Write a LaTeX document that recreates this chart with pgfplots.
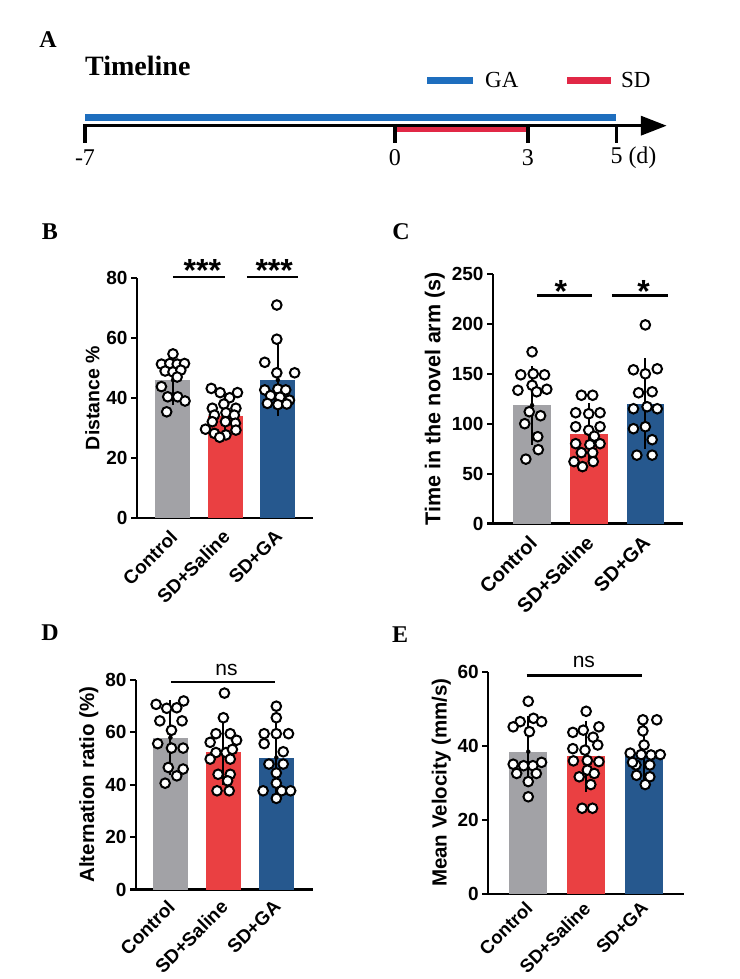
\documentclass[border=0pt]{standalone}
\usepackage{pgfplots}
\pgfplotsset{compat=1.18}
\usepackage{fontspec}
\setmainfont{Liberation Serif}
\newfontfamily\arial{Liberation Sans}
\usetikzlibrary{arrows.meta}
\definecolor{cgray}{RGB}{162,162,166}
\definecolor{cred}{RGB}{234,64,66}
\definecolor{cblue}{RGB}{38,88,142}
\definecolor{tblue}{RGB}{30,110,190}
\definecolor{tred}{RGB}{225,40,70}
\newcommand{\fs}[1]{\fontsize{#1}{#1}\selectfont}
\tikzset{sig/.style={line width=2.6pt}}

\pgfplotsset{
  panel/.style={
    scale only axis,
    anchor=south west,
    axis lines=left,
    axis line style={line width=2.2pt,-},
    clip=false,
    xtick={0,1,2},
    xticklabels={Control,SD+Saline,SD+GA},
    x tick style={draw=none},
    y tick style={line width=2.2pt,black},
    major tick length=6pt,
    tick align=outside,
    ymin=0,
    /pgf/number format/assume math mode=true,
    ticklabel style={font=\arial\bfseries\fs{19}},
    xticklabel style={font=\arial\bfseries\fs{19}, xshift=-4pt, yshift=-3pt, rotate=45, anchor=north east, inner sep=1pt},
  },
  mybar/.style={ybar, bar width=#1, bar shift=0pt, draw=none},
  dots/.style={only marks, mark=*, mark size=4.8pt, mark options={fill=white, draw=black, line width=2pt}},
  myeb/.style={black, only marks, mark=none, error bars/.cd, y dir=both, y explicit,
    error bar style={line width=2pt, black}, error mark options={line width=2pt, mark size=8.5pt, black}},
}

\begin{document}
\begin{tikzpicture}
\path[use as bounding box] (0pt,0pt) rectangle (739pt,-979pt);

% ---------------- Panel A: timeline ----------------
\node[font=\bfseries\fs{24}] at (48pt,-40pt) {A};
\node[font=\bfseries\fs{28}, anchor=west, inner sep=0pt] at (85pt,-66pt) {Timeline};
\draw[tblue, line width=7pt] (427pt,-81pt) -- (473pt,-81pt);
\node[font=\fs{23}, anchor=west, inner sep=0pt] at (485pt,-80pt) {GA};
\draw[tred, line width=7pt] (567pt,-81pt) -- (611pt,-81pt);
\node[font=\fs{23}, anchor=west, inner sep=0pt] at (621pt,-80pt) {SD};
\begin{axis}[scale only axis, anchor=south west, at={(85pt,-170pt)}, width=531.3pt, height=70pt,
  xmin=-7, xmax=5, ymin=-170, ymax=-100, hide axis, clip=false]
\addplot[tblue, line width=6.7pt] coordinates {(-7,-117.3) (5,-117.3)};
\addplot[tred, line width=6pt] coordinates {(0,-129.5) (3,-129.5)};
\draw[line width=3.6pt, -{Triangle[length=26pt,width=19pt]}] (axis cs:-7,-125.7) -- (axis cs:6.14,-125.7);
\draw[line width=3.5pt] (axis cs:-7,-124) -- (axis cs:-7,-142.7);
\draw[line width=3.5pt] (axis cs:0,-124) -- (axis cs:0,-142.7);
\draw[line width=3.5pt] (axis cs:3,-124) -- (axis cs:3,-142.7);
\draw[line width=3.5pt] (axis cs:5,-124) -- (axis cs:5,-142.7);
\node[font=\fs{24}] at (axis cs:-7,-158) {-7};
\node[font=\fs{24}] at (axis cs:0,-158) {0};
\node[font=\fs{24}] at (axis cs:3,-158) {3};
\node[font=\fs{24}, anchor=west, inner sep=0pt, xshift=-6pt] at (axis cs:5,-158) {5 (d)};
\end{axis}

% ---------------- Panel B ----------------
\node[font=\bfseries\fs{24}] at (50pt,-232pt) {B};
\begin{axis}[panel, at={(137pt,-518pt)}, width=176pt, height=240pt,
  xmin=-0.686, xmax=2.67, ymax=80, ytick={0,20,40,60,80}, ylabel={Distance \%},
  ylabel style={font=\arial\bfseries\fs{19.5}}]
\addplot[mybar=35pt, fill=cgray] coordinates {(0,46)};
\addplot[mybar=35pt, fill=cred] coordinates {(1,34)};
\addplot[mybar=35pt, fill=cblue] coordinates {(2,46)};
\addplot[myeb] coordinates {(0,46) +- (0,5.5) (1,34) +- (0,4.5) (2,46) +- (0,9.3)};
\addplot[dots] table {
x y
0.00 54.7
-0.22 51.3
-0.06 51.5
0.08 51.3
0.22 51.5
-0.15 49.0
0.00 48.7
0.15 49.3
0.08 47.0
-0.22 43.8
-0.10 40.4
0.09 40.4
0.23 39.0
-0.12 35.4
};
\addplot[dots] table {
x y
0.73 43.2
0.90 41.8
1.08 40.1
1.23 41.8
0.75 36.6
0.97 38.0
1.20 36.6
0.79 34.3
1.01 35.1
1.17 34.3
0.75 32.1
1.00 32.1
1.19 31.6
0.62 29.6
1.20 29.3
0.79 28.2
1.01 27.7
0.89 26.9
};
\addplot[dots] table {
x y
1.98 71.0
1.98 59.6
1.75 51.9
1.98 48.4
2.32 48.4
1.75 42.7
2.00 43.0
2.15 42.7
1.86 40.8
2.04 40.3
2.22 39.3
1.80 38.2
2.00 37.8
2.17 38.0
};
\draw[sig] (axis cs:0,80.3) -- (axis cs:1.0,80.3);
\draw[sig] (axis cs:1.41,80.3) -- (axis cs:2.39,80.3);
\node[font=\arial\bfseries\fs{32}, anchor=base, inner sep=0pt] at (axis cs:0.56,79) {***};
\node[font=\arial\bfseries\fs{32}, anchor=base, inner sep=0pt] at (axis cs:1.93,79) {***};
\end{axis}

% ---------------- Panel C ----------------
\node[font=\bfseries\fs{24}] at (401pt,-232pt) {C};
\begin{axis}[panel, at={(493pt,-523.5pt)}, width=190.3pt, height=249.5pt,
  xmin=-0.69, xmax=2.67, ymax=250, ytick={0,50,100,150,200,250}, ylabel={Time in the novel arm (s)},
  ylabel style={font=\arial\bfseries\fs{21.5}},
  xticklabel style={font=\arial\bfseries\fs{20}}]
\addplot[mybar=37.7pt, fill=cgray] coordinates {(0,118.5)};
\addplot[mybar=37.7pt, fill=cred] coordinates {(1,90)};
\addplot[mybar=37.7pt, fill=cblue] coordinates {(2,120)};
\addplot[myeb] coordinates {(0,118.5) +- (0,31) (1,90) +- (0,22) (2,120) +- (0,37)};
\addplot[dots] table {
x y
0.00 172
-0.20 149
0.02 150
0.22 149
-0.25 133.5
0.00 138.5
0.08 132
0.26 134.5
-0.05 112
0.15 108
-0.13 100
0.10 87
0.11 74
-0.11 64.5
};
\addplot[dots] table {
x y
0.87 128.5
1.07 128.5
0.77 111
1.00 110
1.20 111
0.77 97
1.00 93.5
1.20 97
1.10 87.5
0.77 80
1.02 79
1.20 80
0.87 71
1.07 71
0.74 62
1.08 62
0.89 57
};
\addplot[dots] table {
x y
2.00 199
1.79 154
2.21 155
2.00 150
1.88 131
2.12 132
1.79 115
2.03 117
2.21 115
1.79 95
2.00 97
2.12 84
1.85 68.5
2.12 68.5
};
\draw[sig] (axis cs:0.08,228.5) -- (axis cs:1.06,228.5);
\draw[sig] (axis cs:1.41,228.5) -- (axis cs:2.40,228.5);
\node[font=\arial\bfseries\fs{32}, anchor=base, inner sep=0pt] at (axis cs:0.51,221) {*};
\node[font=\arial\bfseries\fs{32}, anchor=base, inner sep=0pt] at (axis cs:1.97,221) {*};
\end{axis}

% ---------------- Panel D ----------------
\node[font=\bfseries\fs{24}] at (50pt,-633pt) {D};
\begin{axis}[panel, at={(136pt,-889.5pt)}, width=177.4pt, height=209.5pt,
  xmin=-0.65, xmax=2.7, ymax=80, ytick={0,20,40,60,80}, ylabel={Alternation ratio (\%)},
  ylabel style={font=\arial\bfseries\fs{20.5}}, xticklabel shift=-1.5pt]
\addplot[mybar=35.6pt, fill=cgray] coordinates {(0,58)};
\addplot[mybar=35.6pt, fill=cred] coordinates {(1,52.7)};
\addplot[mybar=35.6pt, fill=cblue] coordinates {(2,50.4)};
\addplot[myeb] coordinates {(0,58) +- (0,11.1) (1,52.7) +- (0,9.4) (2,50.4) +- (0,11.6)};
\addplot[dots] table {
x y
-0.27 70.7
-0.07 69.2
0.12 69.4
0.25 72.0
-0.20 64.4
0.22 64.4
0.02 60.8
-0.24 55.7
0.02 54.0
0.24 54.0
-0.04 46.6
0.24 46.0
0.12 43.4
-0.10 40.6
};
\addplot[dots] table {
x y
1.02 75.0
1.00 65.6
0.86 59.5
1.13 59.5
0.75 56.2
1.25 57.0
0.86 52.3
1.05 52.3
1.17 53.5
0.75 49.8
1.13 49.8
0.90 44.0
1.13 44.0
1.08 41.5
0.88 37.7
1.11 37.7
};
\addplot[dots] table {
x y
2.00 70.0
2.00 65.6
1.77 59.5
2.00 59.5
2.23 59.5
1.77 55.7
2.13 52.6
1.86 47.9
2.13 47.9
2.00 44.5
2.00 40.6
1.75 37.7
2.10 37.7
2.27 37.7
2.00 34.8
};
\draw[sig] (axis cs:0.02,79.3) -- (axis cs:1.97,79.3);
\node[font=\arial\fs{21}, anchor=south, inner sep=0pt] at (axis cs:1.06,81.5) {ns};
\end{axis}

% ---------------- Panel E ----------------
\node[font=\bfseries\fs{24}] at (400pt,-635pt) {E};
\begin{axis}[panel, at={(488.3pt,-893.7pt)}, width=195.7pt, height=222pt,
  xmin=-0.69, xmax=2.69, ymax=60, ytick={0,20,40,60}, ylabel={Mean Velocity (mm/s)},
  ylabel style={font=\arial\bfseries\fs{20.5}}, xticklabel shift=-4pt,
  xticklabel style={font=\arial\bfseries\fs{18.5}}]
\addplot[mybar=38pt, fill=cgray] coordinates {(0,38.4)};
\addplot[mybar=38pt, fill=cred] coordinates {(1,37.2)};
\addplot[mybar=38pt, fill=cblue] coordinates {(2,37.8)};
\addplot[myeb] coordinates {(0,38.4) +- (0,7.2) (1,37.2) +- (0,7.3) (2,37.8) +- (0,6)};
\addplot[dots] table {
x y
0.00 52.0
-0.14 46.5
0.09 47.4
0.23 46.5
-0.26 45.1
0.02 43.8
-0.26 35.0
-0.08 34.6
0.08 34.6
0.23 35.5
-0.20 32.5
0.14 32.5
0.00 30.3
0.00 26.2
};
\addplot[dots] table {
x y
1.00 49.3
0.77 43.6
0.95 44.2
1.22 45.1
1.12 42.3
0.77 39.2
0.98 38.8
1.20 40.2
0.78 35.9
1.02 36.0
1.22 35.7
1.02 33.4
0.88 31.6
1.14 32.5
1.08 29.5
0.93 23.1
1.11 23.1
};
\addplot[dots] table {
x y
1.98 47.0
2.22 47.0
1.98 44.0
2.00 40.2
1.76 38.0
1.95 37.6
2.12 37.5
2.28 37.6
1.86 34.8
2.10 34.8
1.87 32.0
2.10 31.6
2.02 29.5
1.80 35.5
};
\draw[sig] (axis cs:-0.03,58.9) -- (axis cs:1.96,58.9);
\node[font=\arial\fs{21}, anchor=south, inner sep=0pt] at (axis cs:0.96,61) {ns};
\end{axis}
\end{tikzpicture}
\end{document}
